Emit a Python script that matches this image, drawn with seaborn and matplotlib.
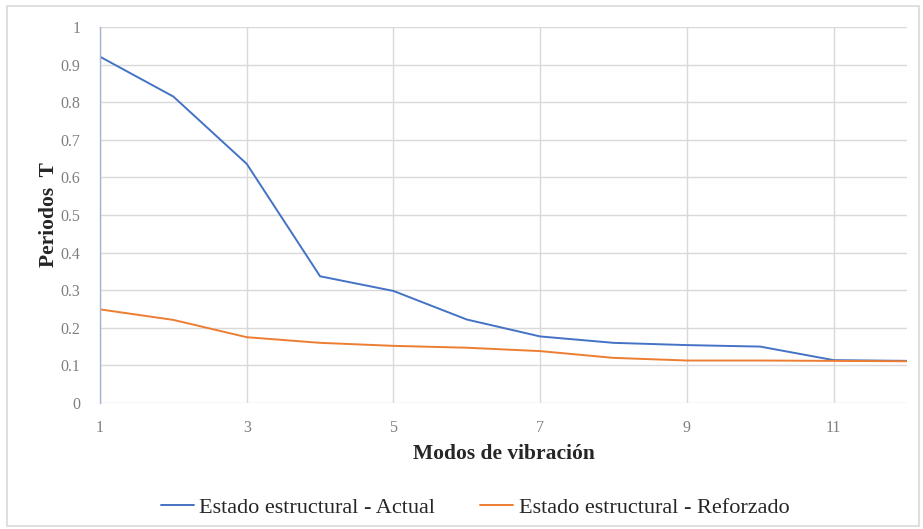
import matplotlib
matplotlib.use("Agg")
import matplotlib.pyplot as plt
from matplotlib.patches import Rectangle
import seaborn as sns
import pandas as pd

modos = [1, 2, 3, 4, 5, 6, 7, 8, 9, 10, 11, 12]
actual = [0.921, 0.815, 0.636, 0.337, 0.298, 0.222, 0.177, 0.160, 0.154, 0.150, 0.114, 0.112]
reforzado = [0.249, 0.221, 0.175, 0.160, 0.152, 0.147, 0.138, 0.120, 0.113, 0.113, 0.112, 0.111]
series = ["Estado estructural - Actual", "Estado estructural - Reforzado"]
colores = ["#4472C4", "#ED7D31"]
x_ticks = [1, 3, 5, 7, 9, 11]
y_ticks = [0, 0.1, 0.2, 0.3, 0.4, 0.5, 0.6, 0.7, 0.8, 0.9, 1]
y_tick_labels = ["0", "0.1", "0.2", "0.3", "0.4", "0.5", "0.6", "0.7", "0.8", "0.9", "1"]

df = pd.DataFrame({
    "Modo": modos * 2,
    "Periodo": actual + reforzado,
    "Serie": [series[0]] * len(modos) + [series[1]] * len(modos),
})

sns.set_theme(style="white")
plt.rcParams["font.family"] = ["Liberation Serif", "DejaVu Serif"]

fig = plt.figure(figsize=(9.23, 5.29), dpi=100)
ax = fig.add_axes([100 / 923, 1 - 403 / 529, 807 / 923, 376 / 529])

# chart-area frame
fig.patches.append(Rectangle((7 / 923, 3 / 529), 912 / 923, 520 / 529,
                             transform=fig.transFigure, fill=False,
                             edgecolor="#d9d9d9", linewidth=1.2))

sns.lineplot(data=df, x="Modo", y="Periodo", hue="Serie", palette=colores,
             hue_order=series, linewidth=1.4, ax=ax, legend=True)

ax.set_xlim(1, 12)
ax.set_ylim(0, 1)
ax.set_xticks(x_ticks)
ax.set_xticklabels([str(t) for t in x_ticks])
ax.set_yticks(y_ticks)
ax.set_yticklabels(y_tick_labels)
ax.tick_params(axis="x", length=0, labelsize=11.5, labelcolor="#7f7f7f", pad=12)
ax.tick_params(axis="y", length=0, labelsize=11.5, labelcolor="#7f7f7f", pad=14)
ax.grid(True, color="#d9d9d9", linewidth=1)
for side in ["top", "right", "bottom"]:
    ax.spines[side].set_visible(False)
ax.spines["left"].set_color("#a6b3cc")
ax.spines["left"].set_linewidth(1)

ax.set_xlabel("Modos de vibración", fontsize=15.5, fontweight="bold", labelpad=6)
ax.set_ylabel("Periodos  T", fontsize=15.5, fontweight="bold", labelpad=1)

handles, labels = ax.get_legend_handles_labels()
ax.legend(handles, labels, loc="center", bbox_to_anchor=(475 / 923, 1 - 508 / 529),
          bbox_transform=fig.transFigure, ncol=2, frameon=False,
          fontsize=16, handlelength=1.5, handletextpad=0.25, columnspacing=2.0)

fig.savefig("out.png", dpi=100, facecolor="white")
